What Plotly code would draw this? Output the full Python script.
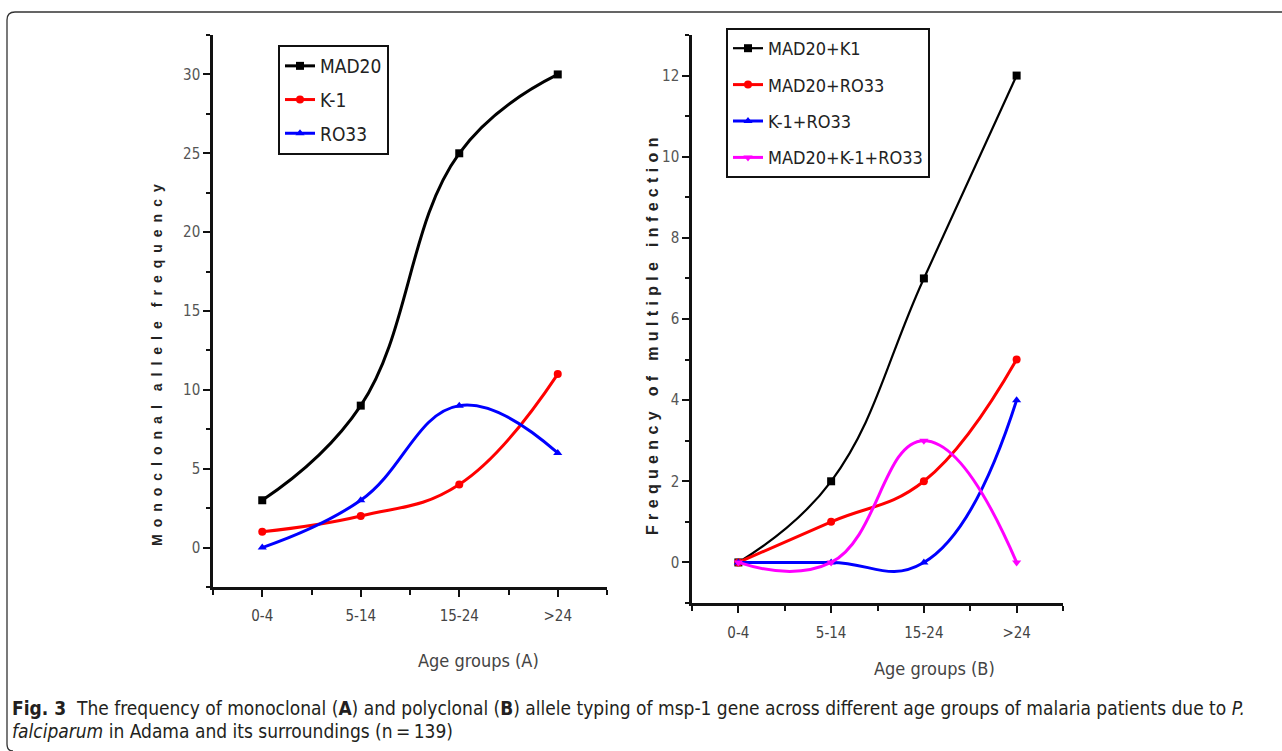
import plotly.graph_objects as go

# data
age_groups = ["0-4", "5-14", "15-24", ">24"]

mad20 = [3, 9, 25, 30]
k1 = [1, 2, 4, 11]
ro33 = [0, 3, 9, 6]

mad20_k1 = [0, 2, 7, 12]
mad20_ro33 = [0, 1, 2, 5]
k1_ro33 = [0, 0, 0, 4]
mad20_k1_ro33 = [0, 0, 3, 0]

W, H = 1282, 751
NARROW = "Liberation Sans Narrow, DejaVu Sans Condensed, Arial Narrow, sans-serif"
SANS = "Liberation Sans, Arial, sans-serif"


def px(x):
    return x / W


def py(y):
    return 1 - y / H


xs = list(range(len(age_groups)))

fig = go.Figure()


def add_line(y, name, color, symbol, xa, ya, legend, width=3, size=8, smooth=1.2):
    fig.add_trace(go.Scatter(
        x=xs, y=y, name=name, mode="lines+markers",
        line=dict(color=color, width=width, shape="spline", smoothing=smooth),
        marker=dict(symbol=symbol, size=size, color=color),
        xaxis=xa, yaxis=ya, legend=legend, legendgroup=name,
    ))


add_line(mad20, "MAD20", "#000000", "square", "x", "y", "legend")
add_line(k1, "K-1", "#ff0000", "circle", "x", "y", "legend")
add_line(ro33, "RO33", "#0000ff", "triangle-up", "x", "y", "legend")

add_line(mad20_k1, "MAD20+K1", "#000000", "square", "x2", "y2", "legend2", width=2.2)
add_line(mad20_ro33, "MAD20+RO33", "#ff0000", "circle", "x2", "y2", "legend2")
add_line(k1_ro33, "K-1+RO33", "#0000ff", "triangle-up", "x2", "y2", "legend2", smooth=1.3)
add_line(mad20_k1_ro33, "MAD20+K-1+RO33", "#ff00ff", "triangle-down", "x2", "y2",
         "legend2", smooth=1.3)

xaxis_common = dict(
    range=[-0.5, 3.5], tickmode="array", tickvals=xs, ticktext=age_groups,
    showline=True, linecolor="#111", linewidth=2.5, mirror=False,
    ticks="outside", ticklen=7, tickwidth=2, tickcolor="#111",
    minor=dict(tickmode="array", tickvals=[-0.5, 0.5, 1.5, 2.5, 3.5],
               ticks="outside", ticklen=5, tickwidth=2, tickcolor="#111"),
    showgrid=False, zeroline=False,
    tickfont=dict(family=NARROW, size=15, color="#444"),
)
yaxis_common = dict(
    showline=True, linecolor="#111", linewidth=2.5, mirror=False,
    ticks="outside", ticklen=7, tickwidth=2, tickcolor="#111",
    showgrid=False, zeroline=False,
    tickfont=dict(family=NARROW, size=15, color="#555"),
)

fig.update_layout(
    width=W, height=H,
    margin=dict(l=0, r=0, t=0, b=0),
    paper_bgcolor="white", plot_bgcolor="white",
    xaxis=dict(domain=[px(213), px(607)], anchor="y", ticklabelstandoff=6,
               **xaxis_common),
    yaxis=dict(domain=[py(587), py(35)], anchor="x", range=[-2.5, 32.5],
               tickvals=[0, 5, 10, 15, 20, 25, 30],
               minor=dict(dtick=2.5, tick0=0, ticks="outside", ticklen=4,
                          tickwidth=2, tickcolor="#111"),
               **yaxis_common),
    xaxis2=dict(domain=[px(692), px(1063)], anchor="y2", ticklabelstandoff=7,
                **xaxis_common),
    yaxis2=dict(domain=[py(603), py(35)], anchor="x2", range=[-1, 13],
                tickvals=[0, 2, 4, 6, 8, 10, 12],
                minor=dict(dtick=1, tick0=0, ticks="outside", ticklen=4,
                           tickwidth=2, tickcolor="#111"),
                **yaxis_common),
    legend=dict(x=px(278), y=py(45), xanchor="left", yanchor="top",
                bgcolor="white", bordercolor="#111", borderwidth=2,
                font=dict(family=NARROW, size=19, color="#222"),
                tracegroupgap=6, itemwidth=30),
    legend2=dict(x=px(726), y=py(28), xanchor="left", yanchor="top",
                 bgcolor="white", bordercolor="#111", borderwidth=2,
                 font=dict(family=NARROW, size=18, color="#222"),
                 tracegroupgap=10, itemwidth=30),
    showlegend=True,
)

left_title = "\u2002".join("Monoclonal allele frequency").replace("\u2002 \u2002", "\u2003")
right_title = "\u2004".join("Frequency of multiple infection")

annotations = [
    dict(text="<b>" + left_title + "</b>", x=px(157), y=py(365), textangle=-90,
         font=dict(family=SANS, size=14, color="#222")),
    dict(text="<b>" + right_title + "</b>", x=px(652), y=py(337), textangle=-90,
         font=dict(family=SANS, size=16, color="#222")),
    dict(text="Age groups (A)", x=px(478), y=py(660),
         font=dict(family=NARROW, size=18, color="#444")),
    dict(text="Age groups (B)", x=px(934), y=py(668),
         font=dict(family=NARROW, size=18, color="#444")),
    dict(text="<b>Fig. 3</b>  The frequency of monoclonal (<b>A</b>) and polyclonal "
              "(<b>B</b>) allele typing of msp-1 gene across different age groups "
              "of malaria patients due to <i>P.</i>",
         x=px(10), y=py(708), xanchor="left",
         font=dict(family=NARROW, size=19, color="#231f20")),
    dict(text="<i>falciparum</i> in Adama and its surroundings (n\u2009=\u2009139)",
         x=px(10), y=py(731), xanchor="left",
         font=dict(family=NARROW, size=19, color="#231f20")),
]
for a in annotations:
    a.update(xref="paper", yref="paper", showarrow=False,
             yanchor=a.get("yanchor", "middle"), xanchor=a.get("xanchor", "center"))
fig.update_layout(annotations=annotations)

# rounded frame on the left/top edges
path = (f"M {px(1282)},{py(12)} L {px(15)},{py(12)} "
        f"Q {px(7)},{py(12)} {px(7)},{py(20)} "
        f"L {px(7)},{py(744)} Q {px(7)},{py(751)} {px(13)},{py(751)}")
fig.add_shape(type="path", path=path, xref="paper", yref="paper",
              line=dict(color="#333", width=1.3), layer="above")

fig.write_html("out.html", config={"displayModeBar": False},
               post_script="document.body.style.margin='0';")
